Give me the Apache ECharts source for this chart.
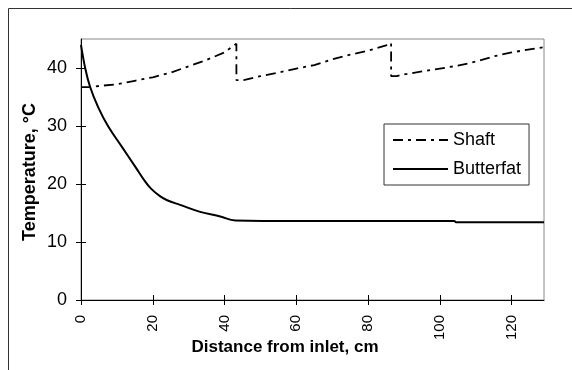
<!DOCTYPE html>
<html>
<head>
<meta charset="utf-8">
<script src="https://cdn.jsdelivr.net/npm/echarts@6/dist/echarts.min.js"></script>
<style>
html,body{margin:0;padding:0;background:#fff;}
#chart{width:572px;height:370px;}
</style>
</head>
<body>
<div id="chart"></div>
<script>
// ---- data ----
const xTicks = [0, 20, 40, 60, 80, 100, 120];
const yTicks = [0, 10, 20, 30, 40];

const shaftX = [0, 2.5, 5, 10, 15, 20, 25, 30, 35, 40, 43.3, 43.3, 45.3, 50, 55, 60, 65, 70, 75, 80, 85, 86.4, 86.4, 88, 90, 95, 100, 105, 110, 115, 120, 125, 129];
const shaftY = [36.7, 36.7, 36.9, 37.2, 37.8, 38.4, 39.2, 40.3, 41.4, 42.7, 44.2, 37.9, 37.9, 38.6, 39.2, 39.9, 40.5, 41.5, 42.3, 43.0, 43.9, 44.3, 38.6, 38.6, 38.9, 39.4, 39.9, 40.4, 41.1, 42.0, 42.7, 43.2, 43.6];

const butterX = [0, 1.1, 2.5, 4.8, 7.6, 11.4, 15.1, 17.9, 19.5, 22, 24, 27.6, 33.2, 38.8, 43, 60, 80, 104, 104.5, 129];
const butterY = [44.0, 40.2, 36.8, 33.2, 29.9, 26.4, 23.0, 20.4, 19.2, 17.9, 17.2, 16.4, 15.2, 14.4, 13.7, 13.6, 13.6, 13.6, 13.4, 13.4];

const seriesNames = ['Shaft', 'Butterfat'];
const xTitle = 'Distance from inlet, cm';
const yTitle = 'Temperature, °C';

function pairs(xs, ys) { return xs.map((x, i) => [x, ys[i]]); }

const font = 'Liberation Sans, Arial, sans-serif';
const chart = echarts.init(document.getElementById('chart'), null, {renderer: 'canvas'});

const xBase = {
  type: 'value', min: 0, max: 129, interval: 20, gridIndex: 0,
  splitLine: {show: false}
};
const yBase = {
  type: 'value', min: 0, max: 45, interval: 10, gridIndex: 0,
  splitLine: {show: false}
};

chart.setOption({
  animation: false,
  backgroundColor: '#fff',
  grid: {left: 81, top: 39, right: 28, bottom: 70, show: true, borderColor: '#888', borderWidth: 1},
  graphic: [
    {type: 'rect', shape: {x: 8.5, y: 8.5, width: 600, height: 400}, style: {fill: 'none', stroke: '#333', lineWidth: 1}, z: -1},
    {type: 'text', x: 285, y: 347, style: {text: xTitle, font: 'bold 17px ' + font, fill: '#000', align: 'center', verticalAlign: 'middle'}},
    {type: 'text', x: 30, y: 172, rotation: Math.PI / 2, style: {text: yTitle, font: 'bold 18px ' + font, fill: '#000', align: 'center', verticalAlign: 'middle'}}
  ],
  legend: {
    orient: 'vertical', left: 384, top: 124,
    data: seriesNames,
    itemWidth: 55, itemHeight: 14, itemGap: 11,
    padding: [7, 8, 7, 8],
    borderColor: '#333', borderWidth: 1, backgroundColor: '#fff',
    itemStyle: {color: 'rgba(0,0,0,0)', borderColor: 'rgba(0,0,0,0)', borderWidth: 0, opacity: 0},
    textStyle: {fontFamily: font, fontSize: 18, color: '#000', padding: [0, 0, 0, 0]}
  },
  xAxis: [
    Object.assign({}, xBase, {
      position: 'bottom',
      axisLine: {show: true, lineStyle: {color: '#000', width: 1}},
      axisTick: {show: true, inside: false, length: 5, lineStyle: {color: '#000'}, customValues: xTicks},
      axisLabel: {rotate: 90, margin: 15, fontFamily: font, fontSize: 15, color: '#000', customValues: xTicks}
    }),
    Object.assign({}, xBase, {
      position: 'bottom',
      axisLine: {show: false},
      axisTick: {show: true, inside: true, length: 5, lineStyle: {color: '#000'}, customValues: xTicks},
      axisLabel: {show: false}
    })
  ],
  yAxis: [
    Object.assign({}, yBase, {
      position: 'left',
      axisLine: {show: true, lineStyle: {color: '#000', width: 1}},
      axisTick: {show: true, inside: false, length: 5, lineStyle: {color: '#000'}, customValues: yTicks},
      axisLabel: {margin: 14, fontFamily: font, fontSize: 18, color: '#000', customValues: yTicks}
    }),
    Object.assign({}, yBase, {
      position: 'left',
      axisLine: {show: false},
      axisTick: {show: true, inside: true, length: 5, lineStyle: {color: '#000'}, customValues: yTicks},
      axisLabel: {show: false}
    })
  ],
  series: [
    {
      name: seriesNames[0], type: 'line', xAxisIndex: 0, yAxisIndex: 0,
      data: pairs(shaftX, shaftY), showSymbol: false, symbol: 'none',
      lineStyle: {color: '#000', width: 1.8, type: [10, 5, 3, 5]},
      itemStyle: {color: '#000'}
    },
    {
      name: seriesNames[1], type: 'line', xAxisIndex: 0, yAxisIndex: 0,
      data: pairs(butterX, butterY), showSymbol: false, symbol: 'none', smooth: 0.4,
      lineStyle: {color: '#000', width: 2, type: 'solid'},
      itemStyle: {color: '#000'}
    }
  ]
});
</script>
</body>
</html>
